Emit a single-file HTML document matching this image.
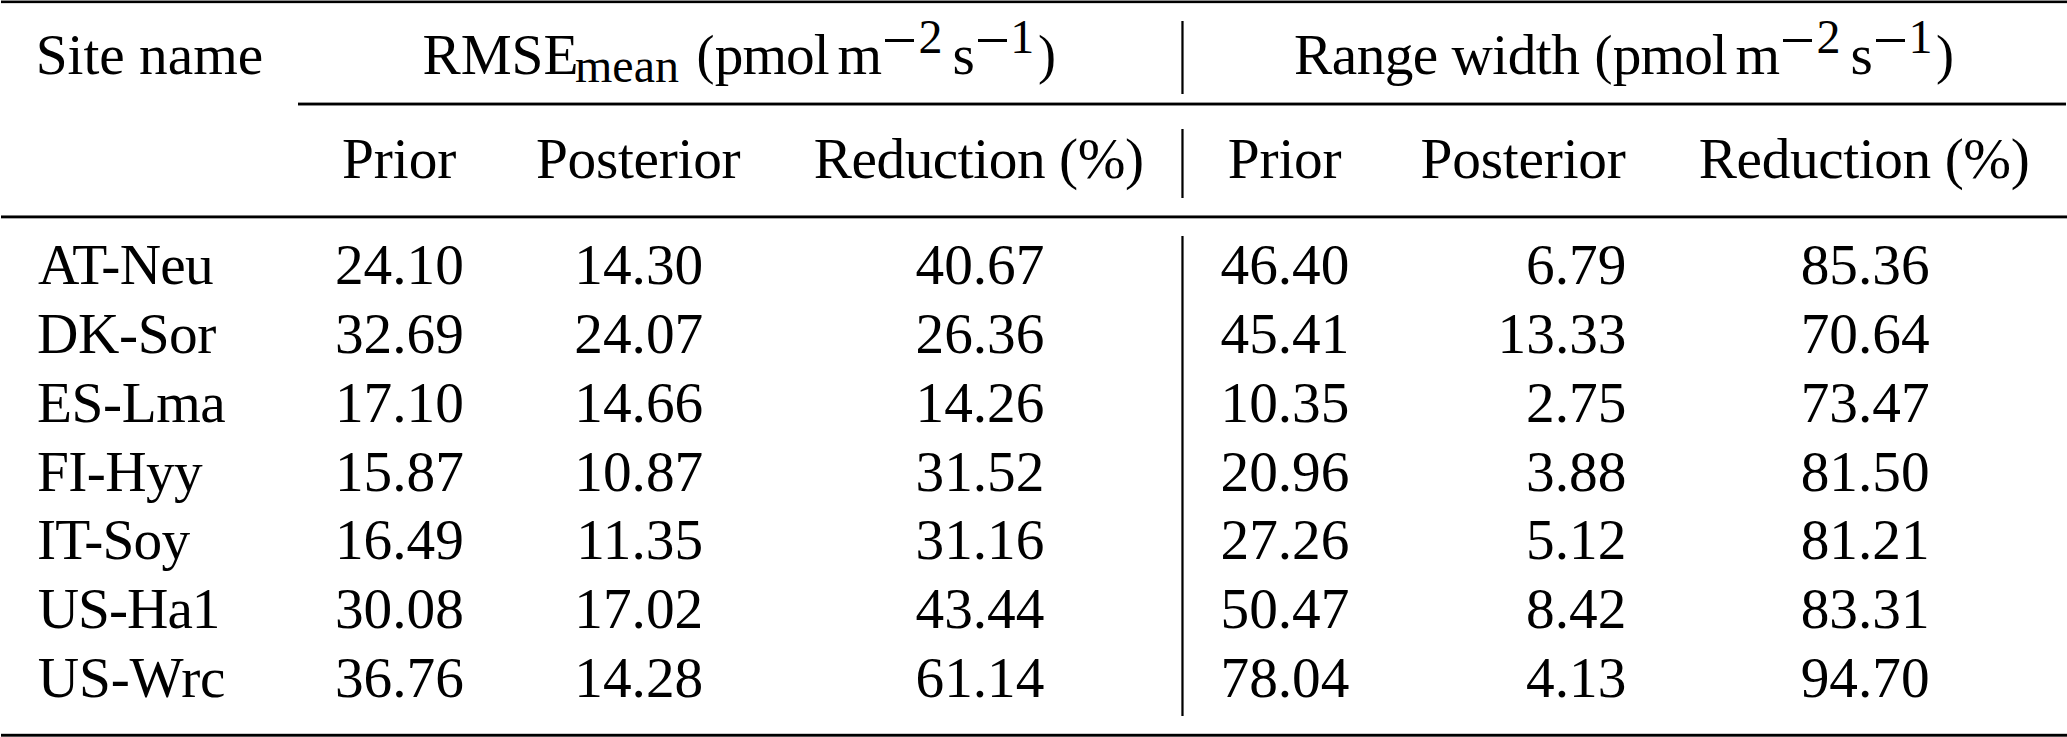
<!DOCTYPE html>
<html><head><meta charset="utf-8"><style>
html,body{margin:0;padding:0;background:#fff;}
body{width:2067px;height:737px;position:relative;overflow:hidden;font-family:"Liberation Serif",serif;color:#000;}
.t{position:absolute;white-space:nowrap;line-height:1;}
.r{position:absolute;background:#000;}
</style></head>
<body>

<div class="r" style="left:1px;top:0;width:2066px;height:1px;background:#8c8c8c"></div>
<div class="r" style="left:1px;top:1px;width:2066px;height:2px"></div>
<div class="r" style="left:1px;top:3px;width:2066px;height:1px;background:#dcdcdc"></div>
<div class="r" style="left:298px;top:102px;width:1768px;height:1px;background:#999"></div>
<div class="r" style="left:298px;top:103px;width:1768px;height:2px"></div>
<div class="r" style="left:298px;top:105px;width:1768px;height:1px;background:#888"></div>
<div class="r" style="left:1px;top:215px;width:2066px;height:1px;background:#777"></div>
<div class="r" style="left:1px;top:216px;width:2066px;height:2px"></div>
<div class="r" style="left:1px;top:218px;width:2066px;height:1px;background:#aaa"></div>
<div class="r" style="left:1px;top:733px;width:2066px;height:1px;background:#ccc"></div>
<div class="r" style="left:1px;top:734px;width:2066px;height:2px"></div>
<div class="r" style="left:1px;top:736px;width:2066px;height:1px;background:#505050"></div>
<div class="r" style="left:1181px;top:21px;width:1px;height:73px;background:#5a5a5a"></div>
<div class="r" style="left:1182px;top:21px;width:1px;height:73px;background:#000"></div>
<div class="r" style="left:1183px;top:21px;width:1px;height:73px;background:#666"></div>
<div class="r" style="left:1181px;top:129px;width:1px;height:69px;background:#5a5a5a"></div>
<div class="r" style="left:1182px;top:129px;width:1px;height:69px;background:#000"></div>
<div class="r" style="left:1183px;top:129px;width:1px;height:69px;background:#666"></div>
<div class="r" style="left:1181px;top:236px;width:1px;height:480px;background:#5a5a5a"></div>
<div class="r" style="left:1182px;top:236px;width:1px;height:480px;background:#000"></div>
<div class="r" style="left:1183px;top:236px;width:1px;height:480px;background:#666"></div>
<div class="r" style="left:885.3px;top:39px;width:29.1px;height:3px"></div>
<div class="r" style="left:978.0px;top:39px;width:29.2px;height:3px"></div>
<div class="r" style="left:1783.4px;top:39px;width:29.1px;height:3px"></div>
<div class="r" style="left:1876.1px;top:39px;width:29.2px;height:3px"></div>

<div class="t" style="left:35.65px;top:25.71px;font-size:57.3px">Site name</div>
<div class="t" style="left:422.45px;top:25.71px;font-size:57.3px">RMSE</div>
<div class="t" style="left:575.03px;top:41.50px;font-size:48.0px">mean</div>
<div class="t" style="left:696.40px;top:28.00px;font-size:54.0px">(</div>
<div class="t" style="left:714.70px;top:25.71px;font-size:57.3px;letter-spacing:-0.94px">pmol</div>
<div class="t" style="left:837.41px;top:25.71px;font-size:57.3px">m</div>
<div class="t" style="left:918.50px;top:13.00px;font-size:48.0px">2</div>
<div class="t" style="left:952.52px;top:25.71px;font-size:57.3px">s</div>
<div class="t" style="left:1010.33px;top:13.00px;font-size:48.0px">1</div>
<div class="t" style="left:1037.94px;top:27.80px;font-size:54.0px">)</div>
<div class="t" style="left:1294.10px;top:25.71px;font-size:57.3px;letter-spacing:-0.55px">Range width</div>
<div class="t" style="left:1594.50px;top:28.00px;font-size:54.0px">(</div>
<div class="t" style="left:1612.80px;top:25.71px;font-size:57.3px;letter-spacing:-0.94px">pmol</div>
<div class="t" style="left:1735.51px;top:25.71px;font-size:57.3px">m</div>
<div class="t" style="left:1816.60px;top:13.00px;font-size:48.0px">2</div>
<div class="t" style="left:1850.62px;top:25.71px;font-size:57.3px">s</div>
<div class="t" style="left:1908.43px;top:13.00px;font-size:48.0px">1</div>
<div class="t" style="left:1936.04px;top:27.80px;font-size:54.0px">)</div>
<div class="t" style="left:342.00px;top:130.01px;font-size:57.3px;letter-spacing:-0.08px">Prior</div>
<div class="t" style="left:536.00px;top:130.01px;font-size:57.3px;letter-spacing:-0.28px">Posterior</div>
<div class="t" style="left:813.70px;top:130.01px;font-size:57.3px;letter-spacing:-0.45px">Reduction (%)</div>
<div class="t" style="left:1227.80px;top:130.01px;font-size:57.3px;letter-spacing:-0.18px">Prior</div>
<div class="t" style="left:1420.60px;top:130.01px;font-size:57.3px;letter-spacing:-0.20px">Posterior</div>
<div class="t" style="left:1698.80px;top:130.01px;font-size:57.3px;letter-spacing:-0.40px">Reduction (%)</div>
<div class="t" style="left:38.00px;top:236.41px;font-size:57.3px;letter-spacing:-0.74px">AT-Neu</div>
<div class="t" style="left:334.89px;top:236.41px;font-size:57.3px">24.10</div>
<div class="t" style="left:574.29px;top:236.41px;font-size:57.3px">14.30</div>
<div class="t" style="left:915.49px;top:236.41px;font-size:57.3px">40.67</div>
<div class="t" style="left:1220.49px;top:236.41px;font-size:57.3px">46.40</div>
<div class="t" style="left:1526.09px;top:236.41px;font-size:57.3px">6.79</div>
<div class="t" style="left:1800.69px;top:236.41px;font-size:57.3px">85.36</div>
<div class="t" style="left:37.00px;top:305.14px;font-size:57.3px;letter-spacing:-0.40px">DK-Sor</div>
<div class="t" style="left:334.89px;top:305.14px;font-size:57.3px">32.69</div>
<div class="t" style="left:574.29px;top:305.14px;font-size:57.3px">24.07</div>
<div class="t" style="left:915.49px;top:305.14px;font-size:57.3px">26.36</div>
<div class="t" style="left:1220.49px;top:305.14px;font-size:57.3px">45.41</div>
<div class="t" style="left:1497.59px;top:305.14px;font-size:57.3px">13.33</div>
<div class="t" style="left:1800.69px;top:305.14px;font-size:57.3px">70.64</div>
<div class="t" style="left:37.00px;top:373.87px;font-size:57.3px;letter-spacing:-0.44px">ES-Lma</div>
<div class="t" style="left:334.89px;top:373.87px;font-size:57.3px">17.10</div>
<div class="t" style="left:574.29px;top:373.87px;font-size:57.3px">14.66</div>
<div class="t" style="left:915.49px;top:373.87px;font-size:57.3px">14.26</div>
<div class="t" style="left:1220.49px;top:373.87px;font-size:57.3px">10.35</div>
<div class="t" style="left:1526.09px;top:373.87px;font-size:57.3px">2.75</div>
<div class="t" style="left:1800.69px;top:373.87px;font-size:57.3px">73.47</div>
<div class="t" style="left:37.00px;top:442.60px;font-size:57.3px;letter-spacing:-0.62px">FI-Hyy</div>
<div class="t" style="left:334.89px;top:442.60px;font-size:57.3px">15.87</div>
<div class="t" style="left:574.29px;top:442.60px;font-size:57.3px">10.87</div>
<div class="t" style="left:915.49px;top:442.60px;font-size:57.3px">31.52</div>
<div class="t" style="left:1220.49px;top:442.60px;font-size:57.3px">20.96</div>
<div class="t" style="left:1526.09px;top:442.60px;font-size:57.3px">3.88</div>
<div class="t" style="left:1800.69px;top:442.60px;font-size:57.3px">81.50</div>
<div class="t" style="left:36.92px;top:511.33px;font-size:57.3px;letter-spacing:-0.77px">IT-Soy</div>
<div class="t" style="left:334.89px;top:511.33px;font-size:57.3px">16.49</div>
<div class="t" style="left:576.29px;top:511.33px;font-size:57.3px">11.35</div>
<div class="t" style="left:915.49px;top:511.33px;font-size:57.3px">31.16</div>
<div class="t" style="left:1220.49px;top:511.33px;font-size:57.3px">27.26</div>
<div class="t" style="left:1526.09px;top:511.33px;font-size:57.3px">5.12</div>
<div class="t" style="left:1800.69px;top:511.33px;font-size:57.3px">81.21</div>
<div class="t" style="left:37.78px;top:580.06px;font-size:57.3px;letter-spacing:-1.02px">US-Ha1</div>
<div class="t" style="left:334.89px;top:580.06px;font-size:57.3px">30.08</div>
<div class="t" style="left:574.29px;top:580.06px;font-size:57.3px">17.02</div>
<div class="t" style="left:915.49px;top:580.06px;font-size:57.3px">43.44</div>
<div class="t" style="left:1220.49px;top:580.06px;font-size:57.3px">50.47</div>
<div class="t" style="left:1526.09px;top:580.06px;font-size:57.3px">8.42</div>
<div class="t" style="left:1800.69px;top:580.06px;font-size:57.3px">83.31</div>
<div class="t" style="left:37.78px;top:648.79px;font-size:57.3px;letter-spacing:-0.18px">US-Wrc</div>
<div class="t" style="left:334.89px;top:648.79px;font-size:57.3px">36.76</div>
<div class="t" style="left:574.29px;top:648.79px;font-size:57.3px">14.28</div>
<div class="t" style="left:915.49px;top:648.79px;font-size:57.3px">61.14</div>
<div class="t" style="left:1220.49px;top:648.79px;font-size:57.3px">78.04</div>
<div class="t" style="left:1526.09px;top:648.79px;font-size:57.3px">4.13</div>
<div class="t" style="left:1800.69px;top:648.79px;font-size:57.3px">94.70</div>
</body></html>
